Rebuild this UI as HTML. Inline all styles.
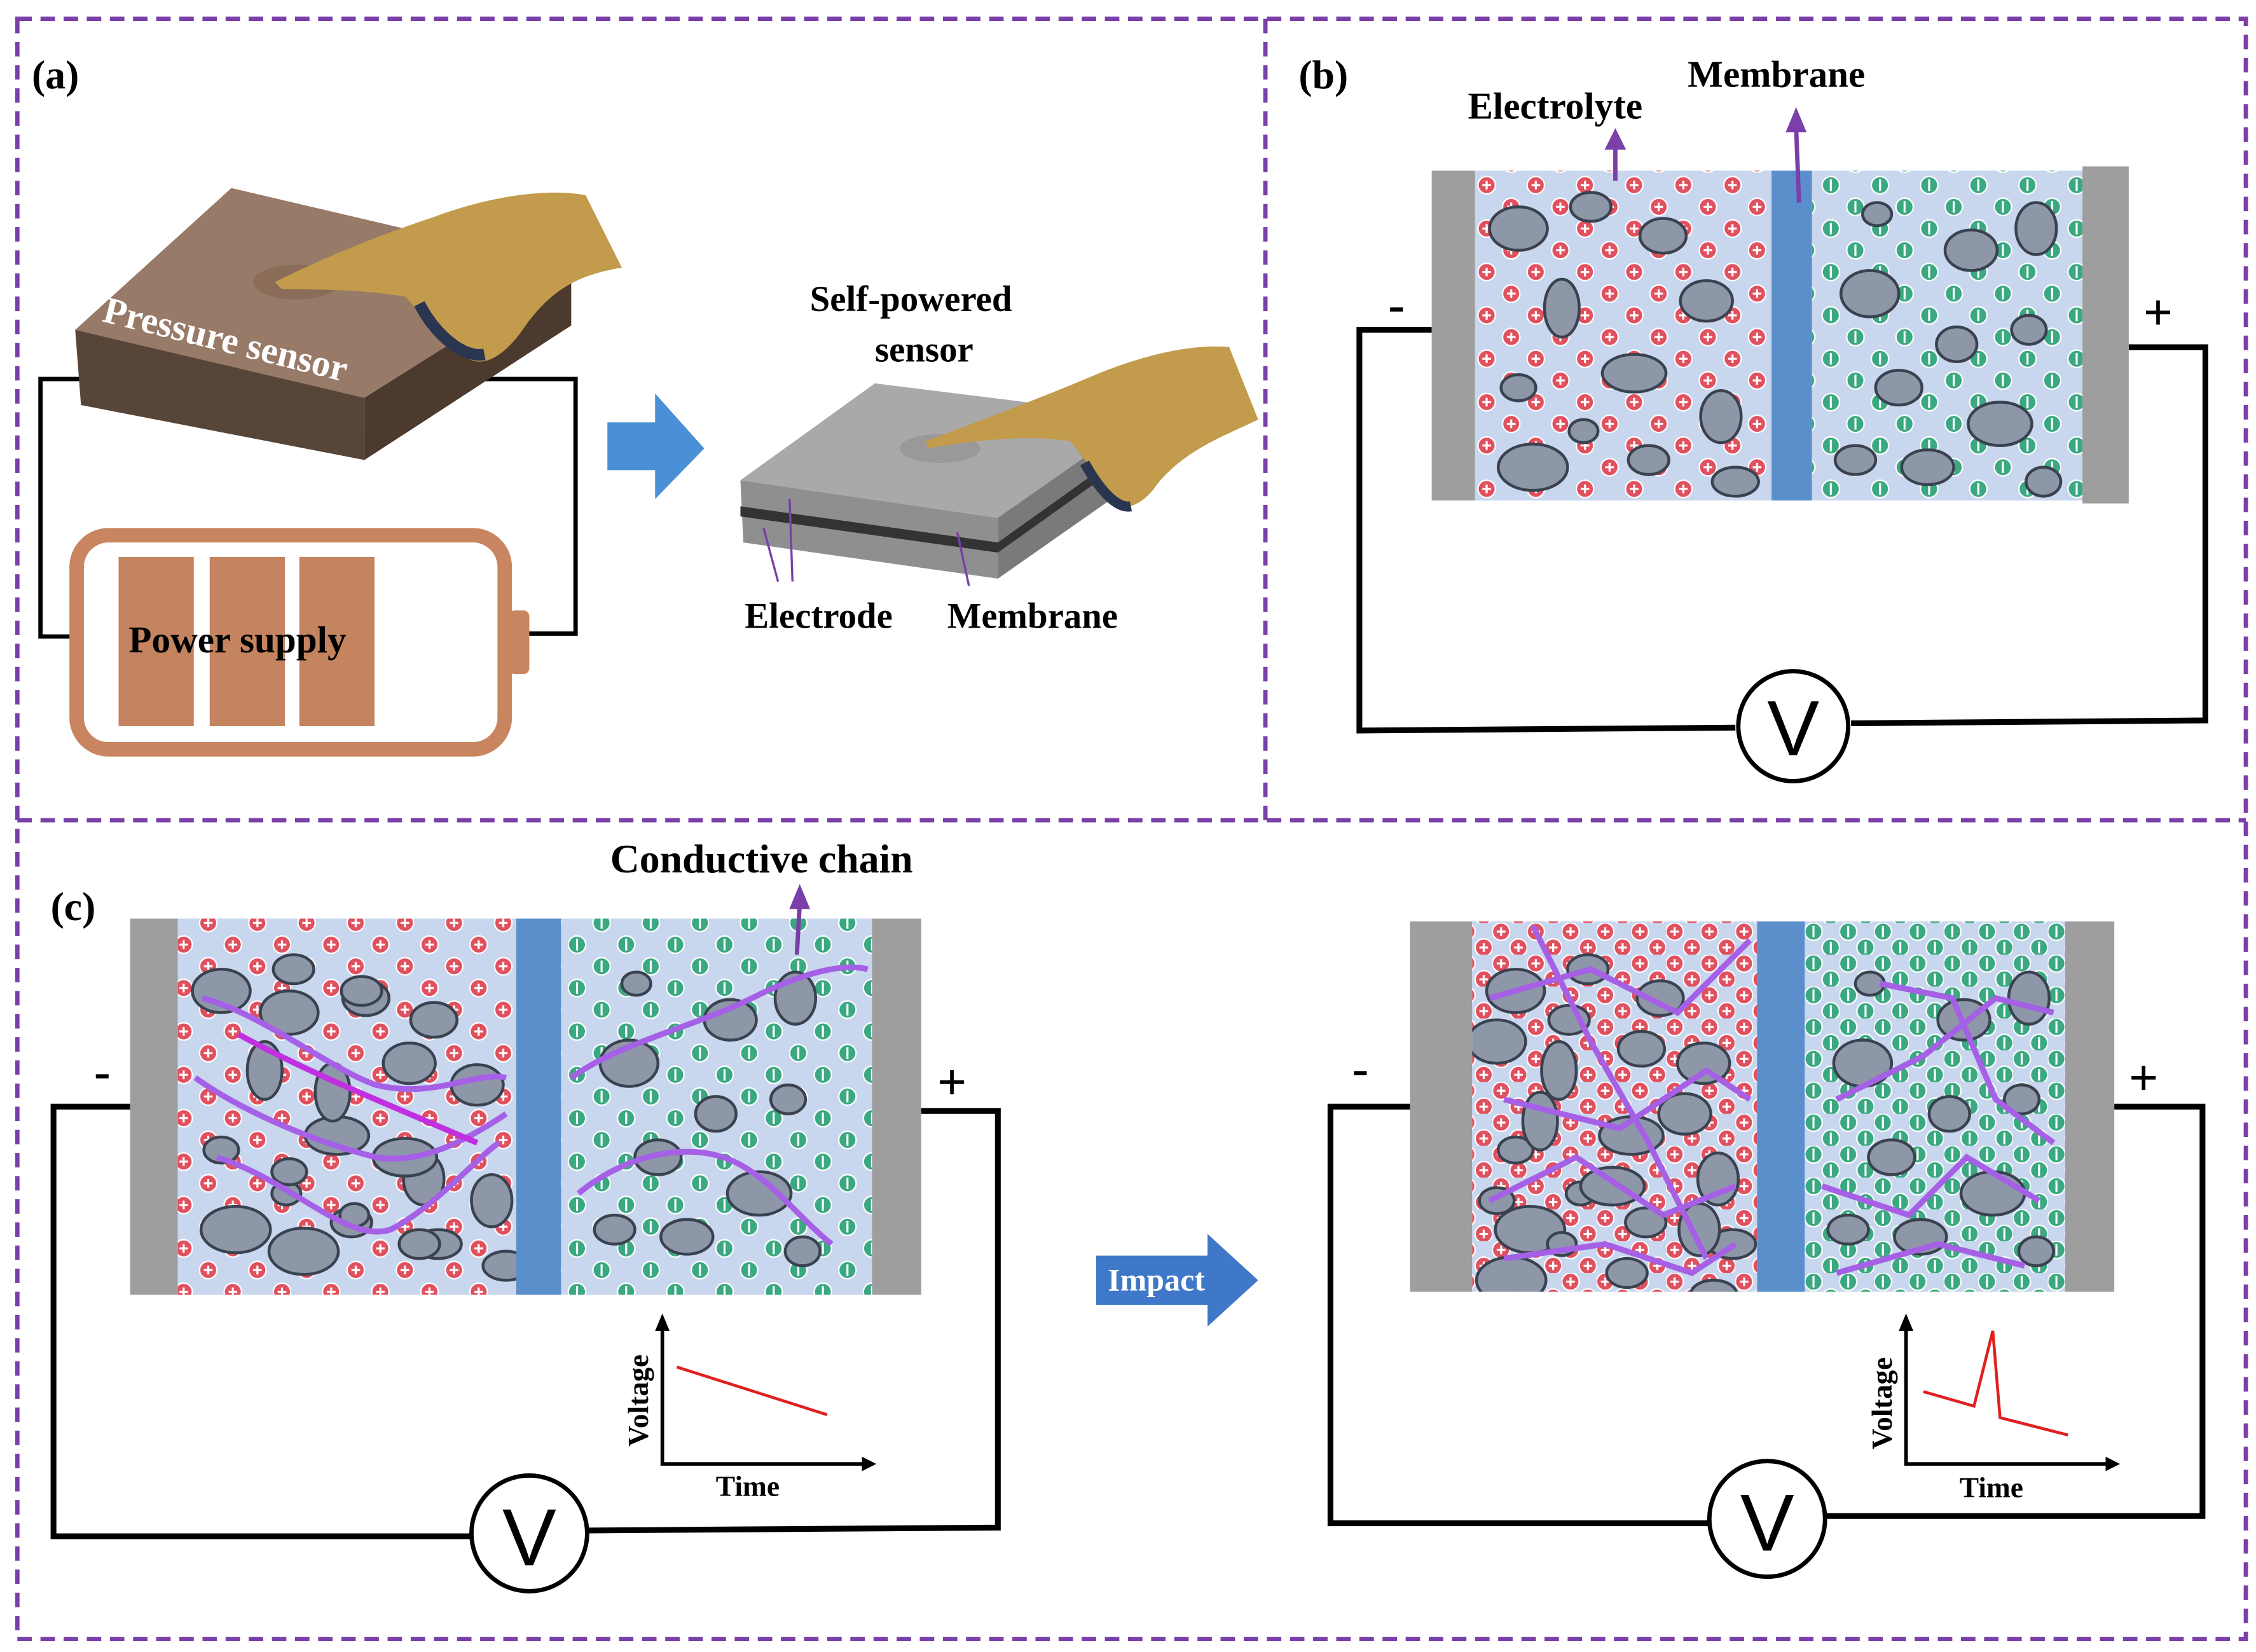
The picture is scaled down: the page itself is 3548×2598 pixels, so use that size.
<!DOCTYPE html>
<html><head><meta charset="utf-8"><style>html,body{margin:0;padding:0;background:#fff}svg{display:block}</style></head>
<body>
<svg width="3548" height="2598" viewBox="0 0 1560 1142" preserveAspectRatio="none" xmlns="http://www.w3.org/2000/svg" font-family="Liberation Serif, serif" font-weight="bold">
<defs>
<pattern id="red" width="34" height="30" patternUnits="userSpaceOnUse">
<circle cx="8" cy="8" r="6" fill="#e0505e" stroke="#fff" stroke-width="1"/><path d="M5 8h6M8 5v6" stroke="#fff" stroke-width="1.4"/>
<circle cx="25" cy="23" r="6" fill="#e0505e" stroke="#fff" stroke-width="1"/><path d="M22 23h6M25 20v6" stroke="#fff" stroke-width="1.4"/>
</pattern>
<pattern id="red2" width="24" height="22" patternUnits="userSpaceOnUse">
<circle cx="6" cy="6" r="6" fill="#e0505e" stroke="#fff" stroke-width="1"/><path d="M3 6h6M6 3v6" stroke="#fff" stroke-width="1.4"/>
<circle cx="18" cy="17" r="6" fill="#e0505e" stroke="#fff" stroke-width="1"/><path d="M15 17h6M18 14v6" stroke="#fff" stroke-width="1.4"/>
</pattern>
<pattern id="grn" width="34" height="30" patternUnits="userSpaceOnUse">
<circle cx="8" cy="8" r="6" fill="#3aa880" stroke="#fff" stroke-width="1"/><path d="M8 4v8" stroke="#fff" stroke-width="1.4"/>
<circle cx="25" cy="23" r="6" fill="#3aa880" stroke="#fff" stroke-width="1"/><path d="M25 19v8" stroke="#fff" stroke-width="1.4"/>
</pattern>
<pattern id="grn2" width="24" height="22" patternUnits="userSpaceOnUse">
<circle cx="6" cy="6" r="6" fill="#3aa880" stroke="#fff" stroke-width="1"/><path d="M6 2v8" stroke="#fff" stroke-width="1.4"/>
<circle cx="18" cy="17" r="6" fill="#3aa880" stroke="#fff" stroke-width="1"/><path d="M18 13v8" stroke="#fff" stroke-width="1.4"/>
</pattern>
<clipPath id="cb1"><rect x="1020" y="118" width="205" height="228"/></clipPath>
<clipPath id="cb2"><rect x="1253" y="118" width="187" height="228"/></clipPath>
<clipPath id="cc1"><rect x="123" y="635" width="234" height="260"/></clipPath>
<clipPath id="cc2"><rect x="388" y="635" width="215" height="260"/></clipPath>
<clipPath id="cd1"><rect x="1018" y="637" width="197" height="256"/></clipPath>
<clipPath id="cd2"><rect x="1248" y="637" width="180" height="256"/></clipPath>
<g id="blobsL" fill="#8d97a8" stroke="#3a4250" stroke-width="2">
<ellipse cx="30" cy="40" rx="20" ry="15"/><ellipse cx="80" cy="25" rx="14" ry="10"/><ellipse cx="130" cy="45" rx="16" ry="12"/>
<ellipse cx="60" cy="95" rx="12" ry="20"/><ellipse cx="160" cy="90" rx="18" ry="14"/><ellipse cx="110" cy="140" rx="22" ry="13"/>
<ellipse cx="30" cy="150" rx="12" ry="9"/><ellipse cx="170" cy="170" rx="14" ry="18"/><ellipse cx="40" cy="205" rx="24" ry="16"/>
<ellipse cx="120" cy="200" rx="14" ry="10"/><ellipse cx="180" cy="215" rx="16" ry="10"/><ellipse cx="75" cy="180" rx="10" ry="8"/>
</g>
<g id="blobsR" fill="#8d97a8" stroke="#3a4250" stroke-width="2">
<ellipse cx="45" cy="30" rx="10" ry="8"/><ellipse cx="110" cy="55" rx="18" ry="14"/><ellipse cx="155" cy="40" rx="14" ry="18"/>
<ellipse cx="40" cy="85" rx="20" ry="16"/><ellipse cx="100" cy="120" rx="14" ry="12"/><ellipse cx="150" cy="110" rx="12" ry="10"/>
<ellipse cx="60" cy="150" rx="16" ry="12"/><ellipse cx="130" cy="175" rx="22" ry="15"/><ellipse cx="30" cy="200" rx="14" ry="10"/>
<ellipse cx="80" cy="205" rx="18" ry="12"/><ellipse cx="160" cy="215" rx="12" ry="10"/>
</g>
</defs>
<rect width="1560" height="1142" fill="#fff"/>
<g stroke="#7a3fa8" stroke-width="3" stroke-dasharray="10 6" fill="none">
<rect x="12" y="13" width="1541" height="1120"/><line x1="875" y1="13" x2="875" y2="567"/><line x1="12" y1="567" x2="1553" y2="567"/>
</g>
<!-- (a) -->
<text x="22" y="61" font-size="28">(a)</text>
<polyline points="55,262 28,262 28,440 52,440" fill="none" stroke="#000" stroke-width="3"/>
<polyline points="285,262 398,262 398,438 362,438" fill="none" stroke="#000" stroke-width="3"/>
<polygon points="52,228 160,130 395,185 252,275" fill="#977a68"/>
<polygon points="52,228 252,275 252,318 56,280" fill="#574538"/>
<polygon points="252,275 395,185 395,225 252,318" fill="#4c3a2e"/>
<ellipse cx="205" cy="195" rx="30" ry="12" fill="#8a6c58"/>
<text x="70" y="222" font-size="26" fill="#fff" transform="rotate(14 70 222)">Pressure sensor</text>
<path d="M190 195 C230 175 270 160 300 150 C340 135 380 130 405 135 L430 185 C400 190 380 200 360 230 C345 250 330 255 320 245 C300 230 290 215 280 205 C250 200 220 200 195 200 Z" fill="#c29b4c"/>
<path d="M290 210 C300 230 320 248 335 245" stroke="#2a3550" stroke-width="8" fill="none"/>
<rect x="53" y="370" width="296" height="148" rx="22" fill="none" stroke="#c8855f" stroke-width="10"/>
<rect x="352" y="422" width="14" height="44" rx="4" fill="#c8855f"/>
<rect x="82" y="385" width="52" height="117" fill="#c4845f"/><rect x="145" y="385" width="52" height="117" fill="#c4845f"/><rect x="207" y="385" width="52" height="117" fill="#c4845f"/>
<text x="89" y="451" font-size="26">Power supply</text>
<polygon points="420,292 453,292 453,272 487,310 453,345 453,325 420,325" fill="#4a90d6"/>
<text x="560" y="215" font-size="25">Self-powered</text><text x="605" y="250" font-size="25">sensor</text>
<polygon points="512,332 605,265 790,288 690,358" fill="#a9a9a9"/>
<polygon points="512,332 690,358 690,400 514,375" fill="#8f8f8f"/>
<polygon points="690,358 790,288 790,330 690,400" fill="#7a7a7a"/>
<polygon points="512,350 690,375 690,382 512,357" fill="#333"/>
<polygon points="690,375 770,318 770,325 690,382" fill="#333"/>
<ellipse cx="650" cy="310" rx="28" ry="10" fill="#999"/>
<path d="M640 305 C680 290 720 275 760 258 C800 242 830 238 850 240 L870 290 C850 300 820 310 800 335 C790 350 775 355 770 345 C760 330 750 318 740 305 C710 300 670 305 642 310 Z" fill="#c29b4c"/>
<path d="M750 320 C760 338 772 352 782 350" stroke="#2a3550" stroke-width="7" fill="none"/>
<g stroke="#7a3fa8" stroke-width="1.5" fill="#7a3fa8">
<line x1="528" y1="365" x2="538" y2="402"/><line x1="546" y1="345" x2="548" y2="402"/><line x1="662" y1="368" x2="670" y2="405"/>
</g>
<text x="515" y="434" font-size="25">Electrode</text><text x="655" y="434" font-size="25">Membrane</text>
<!-- (b) -->
<text x="898" y="61" font-size="28">(b)</text>
<polyline points="990,228 940,228 940,505 1200,503" fill="none" stroke="#000" stroke-width="4"/>
<polyline points="1280,500 1525,498 1525,240 1472,240" fill="none" stroke="#000" stroke-width="4"/>
<circle cx="1240" cy="502" r="38" fill="#fff" stroke="#000" stroke-width="3"/>
<text x="1240" y="522" font-family="Liberation Sans, sans-serif" font-weight="normal" font-size="54" text-anchor="middle">V</text>
<rect x="990" y="118" width="30" height="228" fill="#9e9e9e"/>
<rect x="1020" y="118" width="205" height="228" fill="#c8d6ee"/>
<rect x="1020" y="118" width="205" height="228" fill="url(#red)"/>
<g clip-path="url(#cb1)"><use href="#blobsL" x="1020" y="118"/></g>
<rect x="1225" y="118" width="28" height="228" fill="#5b8fcc"/>
<rect x="1253" y="118" width="187" height="228" fill="#c8d6ee"/>
<rect x="1253" y="118" width="187" height="228" fill="url(#grn)"/>
<g clip-path="url(#cb2)"><use href="#blobsR" x="1253" y="118"/></g>
<rect x="1440" y="115" width="32" height="233" fill="#9e9e9e"/>
<text x="960" y="222" font-size="34">-</text><text x="1482" y="228" font-size="36">+</text>
<text x="1015" y="82" font-size="26">Electrolyte</text><text x="1167" y="60" font-size="26">Membrane</text>
<g stroke="#7a3fa8" stroke-width="3" fill="#7a3fa8"><line x1="1117" y1="125" x2="1117" y2="100"/><polygon points="1112,102 1117,92 1122,102"/>
<line x1="1244" y1="140" x2="1242" y2="88"/><polygon points="1237,90 1242,78 1247,90"/></g>
<!-- (c) -->
<text x="35" y="636" font-size="28">(c)</text>
<polyline points="90,765 37,765 37,1062 327,1062" fill="none" stroke="#000" stroke-width="4"/>
<polyline points="406,1058 690,1056 690,768 637,768" fill="none" stroke="#000" stroke-width="4"/>
<circle cx="366" cy="1060" r="40" fill="#fff" stroke="#000" stroke-width="3"/>
<text x="366" y="1082" font-family="Liberation Sans, sans-serif" font-weight="normal" font-size="56" text-anchor="middle">V</text>
<rect x="90" y="635" width="33" height="260" fill="#9e9e9e"/>
<rect x="123" y="635" width="234" height="260" fill="#c8d6ee"/>
<rect x="123" y="635" width="234" height="260" fill="url(#red)"/>
<g clip-path="url(#cc1)"><use href="#blobsL" x="123" y="645"/><use href="#blobsL" x="170" y="660" transform="scale(1 1)"/></g>
<rect x="357" y="635" width="31" height="260" fill="#5b8fcc"/>
<rect x="388" y="635" width="215" height="260" fill="#c8d6ee"/>
<rect x="388" y="635" width="215" height="260" fill="url(#grn)"/>
<g clip-path="url(#cc2)"><use href="#blobsR" x="395" y="650"/></g>
<rect x="603" y="635" width="34" height="260" fill="#9e9e9e"/>
<g stroke="#a560e6" stroke-width="4" fill="none">
<path d="M140 690 C180 700 230 740 260 750 C300 760 330 740 350 745"/>
<path d="M135 745 C170 770 220 790 260 800 C290 805 320 790 350 770"/>
<path d="M150 800 C200 815 240 860 270 850 C300 835 330 800 345 790"/>
<path d="M395 745 C430 720 480 710 520 690 C550 675 580 665 600 670"/>
<path d="M400 825 C430 800 470 790 500 800 C530 810 550 840 575 860"/>
</g>
<path d="M165 715 C210 740 260 760 330 790" stroke="#c030e0" stroke-width="4" fill="none"/>
<text x="65" y="752" font-size="34">-</text><text x="648" y="760" font-size="36">+</text>
<text x="422" y="603" font-size="28">Conductive chain</text>
<g stroke="#7a3fa8" stroke-width="3" fill="#7a3fa8"><line x1="551" y1="660" x2="553" y2="625"/><polygon points="548,627 553,615 558,627"/></g>
<polyline points="458,918 458,1012 598,1012" fill="none" stroke="#000" stroke-width="2.5"/>
<polygon points="453,920 458,908 463,920" /><polygon points="596,1007 606,1012 596,1017"/>
<line x1="468" y1="945" x2="572" y2="978" stroke="#e02020" stroke-width="2"/>
<text x="448" y="1000" font-size="20" transform="rotate(-90 448 1000)">Voltage</text>
<text x="495" y="1034" font-size="20">Time</text>
<polygon points="758,868 835,868 835,853 870,885 835,917 835,902 758,902" fill="#3f78c8"/>
<text x="766" y="892" font-size="22" fill="#fff">Impact</text>
<polyline points="975,765 920,765 920,1053 1183,1053" fill="none" stroke="#000" stroke-width="4"/>
<polyline points="1262,1048 1523,1048 1523,765 1462,765" fill="none" stroke="#000" stroke-width="4"/>
<circle cx="1222" cy="1050" r="40" fill="#fff" stroke="#000" stroke-width="3"/>
<text x="1222" y="1072" font-family="Liberation Sans, sans-serif" font-weight="normal" font-size="56" text-anchor="middle">V</text>
<rect x="975" y="637" width="43" height="256" fill="#9e9e9e"/>
<rect x="1018" y="637" width="197" height="256" fill="#c8d6ee"/>
<rect x="1018" y="637" width="197" height="256" fill="url(#red2)"/>
<g clip-path="url(#cd1)"><use href="#blobsL" x="1018" y="645"/><use href="#blobsL" x="1005" y="680"/></g>
<rect x="1215" y="637" width="33" height="256" fill="#5b8fcc"/>
<rect x="1248" y="637" width="180" height="256" fill="#c8d6ee"/>
<rect x="1248" y="637" width="180" height="256" fill="url(#grn2)"/>
<g clip-path="url(#cd2)"><use href="#blobsR" x="1248" y="650"/></g>
<rect x="1428" y="637" width="34" height="256" fill="#9e9e9e"/>
<g stroke="#a560e6" stroke-width="4" fill="none">
<path d="M1030 690 L1100 670 L1160 700 L1210 650"/><path d="M1040 760 L1120 780 L1180 740 L1210 760"/>
<path d="M1030 830 L1090 800 L1150 840 L1200 820"/><path d="M1040 870 L1110 860 L1170 880 L1200 860"/>
<path d="M1060 640 L1100 720 L1140 790 L1180 870"/><path d="M1270 760 L1330 730 L1380 690 L1420 700"/>
<path d="M1260 820 L1320 840 L1360 800 L1410 830"/><path d="M1270 880 L1340 860 L1400 875"/>
<path d="M1300 680 L1350 690 L1380 760 L1420 790"/>
</g>
<text x="935" y="750" font-size="34">-</text><text x="1472" y="757" font-size="36">+</text>
<polyline points="1318,918 1318,1012 1458,1012" fill="none" stroke="#000" stroke-width="2.5"/>
<polygon points="1313,920 1318,908 1323,920"/><polygon points="1456,1007 1466,1012 1456,1017"/>
<polyline points="1330,962 1365,972 1378,920 1383,980 1430,992" fill="none" stroke="#e02020" stroke-width="2"/>
<text x="1308" y="1002" font-size="20" transform="rotate(-90 1308 1002)">Voltage</text>
<text x="1355" y="1035" font-size="20">Time</text>
</svg>
</body></html>
